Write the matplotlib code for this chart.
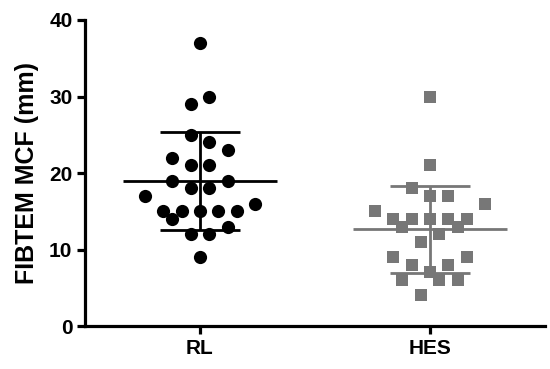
import numpy as np
import matplotlib
matplotlib.use("Agg")
import matplotlib.pyplot as plt

plt.rcParams["font.family"] = ["Liberation Sans", "DejaVu Sans"]
plt.rcParams["font.weight"] = "bold"

# FIBTEM MCF (mm) per patient, in sheet order
groups = ["RL", "HES"]
rl_values = [9, 12, 12, 13, 14, 15, 15, 15, 15, 15, 16, 17, 18, 18, 19, 19,
             21, 21, 23, 22, 24, 25, 30, 29, 37]
hes_values = [6, 4, 6, 6, 7, 8, 8, 9, 9, 12, 11, 13, 13, 14, 14, 14, 14, 14,
              16, 15, 17, 17, 18, 21, 30]
yticks = [0, 10, 20, 30, 40]

colors = ["#000000", "#777777"]
markers = ["o", "s"]
marker_sizes = [9.5, 8.6]


def swarm_offsets(values, bin_height=2.5, step=0.08):
    # Prism-like scatter: close values share a row, rows are centred
    vals = np.asarray(values, dtype=float)
    order = np.argsort(vals, kind="stable")
    rows, start = [], None
    for i in order:
        if start is None or vals[i] - start >= bin_height:
            rows.append([])
            start = vals[i]
        rows[-1].append(i)
    offsets = np.zeros(len(vals))
    for members in rows:
        members = sorted(members)
        n = len(members)
        slots = sorted(np.arange(n) - (n - 1) / 2, key=lambda s: (abs(s), -s))
        for idx, s in zip(members, slots):
            offsets[idx] = s * step
    return offsets


fig = plt.figure(figsize=(5.5, 3.69), dpi=100)
ax = fig.add_axes([0.1545, 0.1165, 0.8365, 0.8293])

for pos, (vals, c, m, ms) in enumerate(zip([rl_values, hes_values], colors, markers, marker_sizes)):
    x = pos + swarm_offsets(vals)
    ax.plot(x, vals, linestyle="none", marker=m, color=c, markersize=ms,
            markeredgewidth=0, zorder=3)
    mean = np.mean(vals)
    sd = np.std(vals, ddof=1)
    ax.hlines(mean, pos - 0.335, pos + 0.335, color=c, lw=2.0, zorder=4)
    ax.hlines([mean - sd, mean + sd], pos - 0.173, pos + 0.173, color=c, lw=2.0, zorder=4)
    ax.vlines(pos, mean - sd, mean + sd, color=c, lw=2.0, zorder=4)

ax.set_xlim(-0.5, 1.5)
ax.set_ylim(0, 40)
ax.set_xticks([0, 1])
ax.set_xticklabels(groups)
ax.set_yticks(yticks)
ax.set_ylabel("FIBTEM MCF (mm)", fontsize=18, fontweight="bold", labelpad=7)

for side in ["top", "right"]:
    ax.spines[side].set_visible(False)
for side in ["left", "bottom"]:
    ax.spines[side].set_linewidth(2.3)
ax.tick_params(axis="both", length=6, width=2.3, labelsize=15, pad=3)
for lab in ax.get_xticklabels() + ax.get_yticklabels():
    lab.set_fontweight("bold")

fig.savefig("out.png", dpi=100)
